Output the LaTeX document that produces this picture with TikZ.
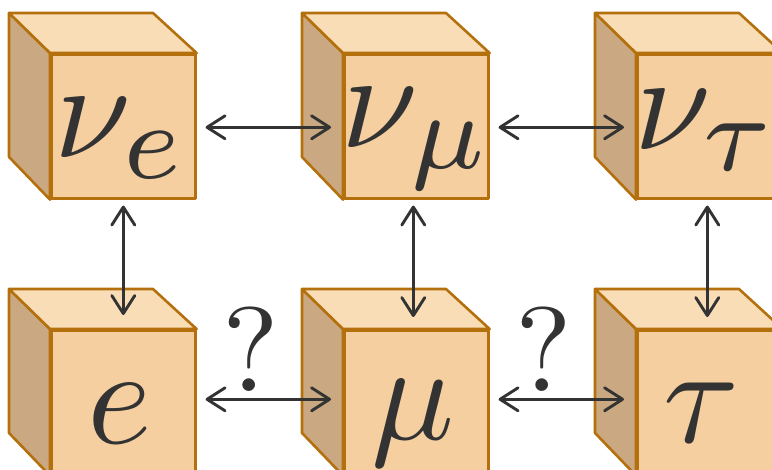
\documentclass[tikz,border=0pt]{standalone}
\usetikzlibrary{arrows.meta}
\definecolor{cfront}{HTML}{F5CF9F}
\definecolor{ctop}{HTML}{F9DDB6}
\definecolor{cside}{HTML}{C9A882}
\definecolor{cedge}{HTML}{B4700C}
\definecolor{cink}{HTML}{333333}
\newcommand\mycube[3]{%
  \node[frontface] (#1) at (#2,#3) {};
  \draw[face, fill=cside] (#1.north west) -- ++(-41,-40) -- ++(0,144) -- (#1.south west) -- cycle;
  \draw[face, fill=ctop] (#1.north west) -- ++(-41,-40) -- ++(144,0) -- (#1.north east) -- cycle;
}
\newcommand\bigsub[1]{\scalebox{1.12}{$\scriptstyle #1$}}
\begin{document}
\begin{tikzpicture}[x=1pt,y=-1pt,
  face/.style={draw=cedge, line width=2.6pt, line join=round},
  frontface/.style={face, fill=cfront, minimum size=144pt, inner sep=0pt, anchor=north west},
  lbl/.style={text=cink, scale=13.8, inner sep=0pt, anchor=base},
  qm/.style={text=cink, scale=12, inner sep=0pt, anchor=base},
  arr/.style={draw=cink, line width=2.9pt,
    {Straight Barb[length=18pt,width=23pt,round]}-{Straight Barb[length=18pt,width=23pt,round]}}]
\useasboundingbox (0,0) rectangle (772,470);
\clip (0,0) rectangle (772,470);
% cubes
\mycube{ne}{50}{53}
\mycube{nm}{343}{53}
\mycube{nt}{636}{53}
\mycube{el}{50}{329}
\mycube{mu}{343}{329}
\mycube{ta}{636}{329}
% labels
\node[lbl] (lne) at (121,158) {$\nu_{\bigsub{e}}$};
\node[lbl] (lnm) at (417,148) {$\nu_{\bigsub{\mu}}$};
\node[lbl] (lnt) at (707,150) {$\nu_{\bigsub{\tau}}$};
\node[lbl] (lel) at (120,444) {$e$};
\node[lbl] (lmu) at (413,440) {$\mu$};
\node[lbl] (lta) at (701,443) {$\tau$};
\node[qm] (q1) at (251,392) {?};
\node[qm] (q2) at (544,392) {?};
% connectors
\draw[arr] ([xshift=9pt,yshift=-1pt]ne.east) -- ([xshift=-12pt,yshift=-1pt]nm.west);
\draw[arr] ([xshift=9pt,yshift=-1pt]nm.east) -- ([xshift=-12pt,yshift=-1pt]nt.west);
\draw[arr] ([xshift=9pt,yshift=3pt]el.east) -- ([xshift=-12pt,yshift=3pt]mu.west);
\draw[arr] ([xshift=9pt,yshift=3pt]mu.east) -- ([xshift=-12pt,yshift=3pt]ta.west);
\draw[arr] ([yshift=-6pt]ne.south) -- ([yshift=14pt]el.north);
\draw[arr] ([xshift=-3pt,yshift=-6pt]nm.south) -- ([xshift=-3pt,yshift=12pt]mu.north);
\draw[arr] ([xshift=-2pt,yshift=-6pt]nt.south) -- ([xshift=-2pt,yshift=12pt]ta.north);
\end{tikzpicture}
\end{document}
